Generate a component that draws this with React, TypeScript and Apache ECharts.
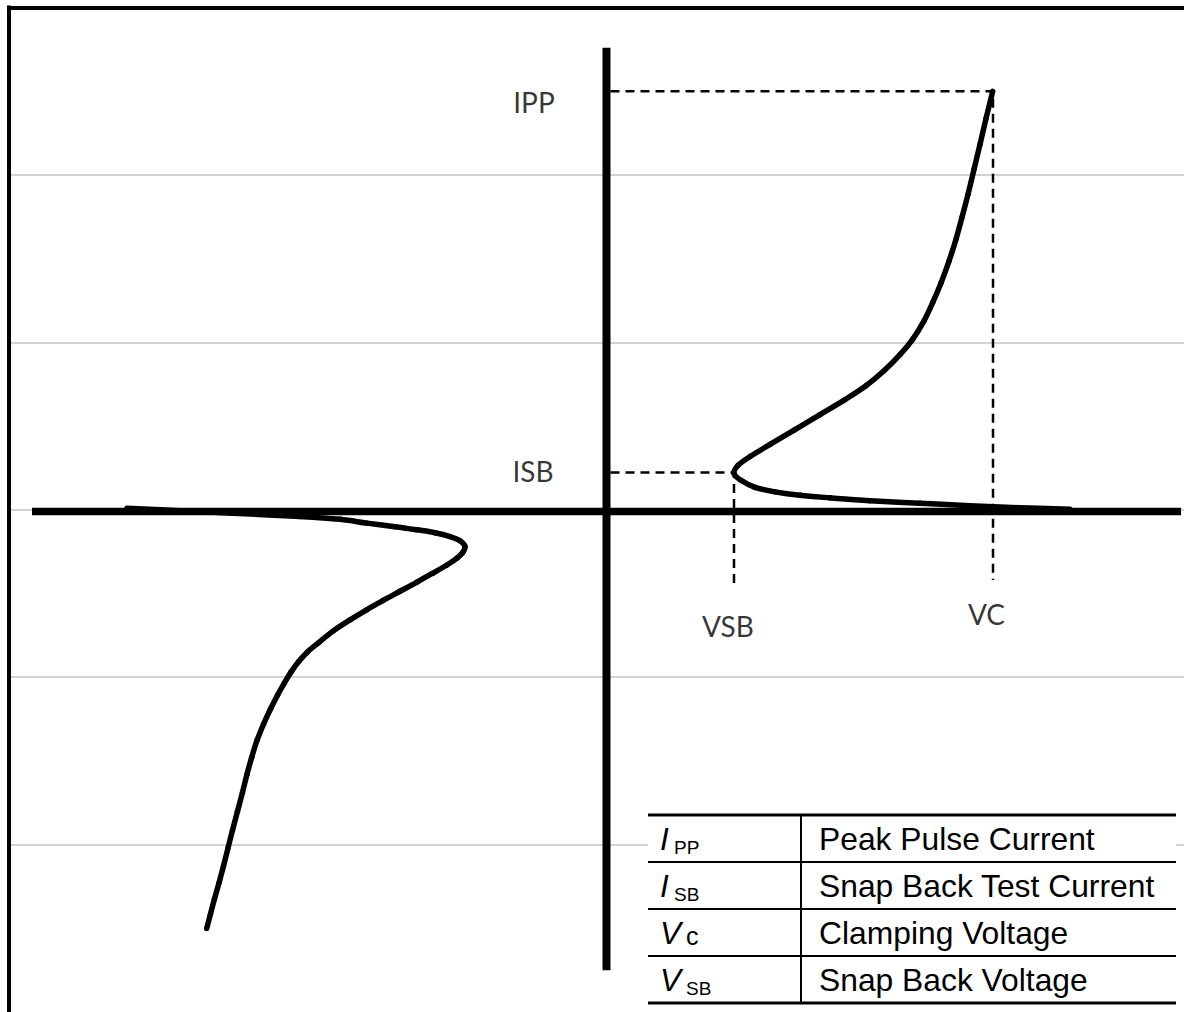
import React, { useEffect, useRef } from "react";
import * as echarts from "echarts";

// ---- axis ranges (arbitrary V / I units) ----
const X_MIN = -5.975;
const X_MAX = 5.775;
const Y_MIN = -3;
const Y_MAX = 3;
const Y_STEP = 1;

// ---- I-V characteristic, positive branch (voltage, current) ----
const POS_CURVE: [number, number][] = [
  [4.635, 0.003], [4.135, 0.012], [3.635, 0.024], [3.135, 0.039], [2.635, 0.054],
  [2.235, 0.071], [1.935, 0.086], [1.685, 0.107], [1.485, 0.134], [1.345, 0.176],
  [1.275, 0.217], [1.315, 0.265], [1.435, 0.318], [1.635, 0.39], [1.885, 0.479],
  [2.135, 0.568], [2.385, 0.658], [2.595, 0.741], [2.775, 0.83], [2.935, 0.926],
  [3.065, 1.021], [3.175, 1.128], [3.265, 1.241], [3.345, 1.354], [3.425, 1.485],
  [3.495, 1.616], [3.555, 1.747], [3.615, 1.884], [3.675, 2.033], [3.735, 2.182],
  [3.795, 2.336], [3.862, 2.499],
];

// ---- I-V characteristic, negative branch ----
const NEG_CURVE: [number, number][] = [
  [-4.795, 0.009], [-4.265, -0.006], [-3.735, -0.021], [-3.065, -0.04], [-2.665, -0.057],
  [-2.395, -0.08], [-2.115, -0.101], [-1.895, -0.12], [-1.715, -0.137], [-1.565, -0.16],
  [-1.465, -0.185], [-1.415, -0.219], [-1.435, -0.253], [-1.495, -0.289], [-1.595, -0.33],
  [-1.735, -0.378], [-1.895, -0.432], [-2.065, -0.487], [-2.235, -0.542], [-2.395, -0.596],
  [-2.565, -0.658], [-2.735, -0.725], [-2.875, -0.792], [-2.99, -0.849], [-3.08, -0.908],
  [-3.155, -0.97], [-3.225, -1.038], [-3.29, -1.108], [-3.36, -1.19], [-3.43, -1.281],
  [-3.495, -1.378], [-3.548, -1.479], [-3.595, -1.58], [-3.64, -1.688], [-3.69, -1.801],
  [-3.74, -1.914], [-3.785, -2.021], [-3.83, -2.128], [-3.875, -2.229], [-3.92, -2.324],
  [-3.96, -2.414], [-3.998, -2.501],
];

// ---- key points ----
const IPP = 2.5;
const VC = 3.865;
const ISB = 0.223;
const VSB = 1.275;
const VC_DROP = -0.42;
const VSB_DROP = -0.467;
const DASH_START = 0.04;

// ---- drawn axes extents ----
const H_AXIS: [number, number][] = [[-5.745, -0.01], [5.745, -0.01]];
const V_AXIS: [number, number][] = [[0, 2.76], [0, -2.75]];

// ---- point labels ----
const POINT_LABELS = [
  { name: "IPP", value: [-0.725, 2.437] },
  { name: "ISB", value: [-0.735, 0.229] },
  { name: "VSB", value: [1.215, -0.693] },
  { name: "VC", value: [3.8, -0.622] },
];

// ---- legend table ----
const TABLE_SYMBOLS = ["I", "I", "V", "V"];
const TABLE_SUBS = ["PP", "SB", "c", "SB"];
const TABLE_SUB_IS_SUBSCRIPT = [true, true, false, true];
const TABLE_DESCS = [
  "Peak Pulse Current",
  "Snap Back Test Current",
  "Clamping Voltage",
  "Snap Back Voltage",
];

function buildTable(): any[] {
  const left = 648;
  const right = 1176;
  const div = 801;
  const rowsY = [815, 862, 909, 956, 1003];
  const els: any[] = [];
  els.push({
    type: "rect",
    z: 10,
    shape: { x: left, y: rowsY[0], width: right - left, height: rowsY[4] - rowsY[0] },
    style: { fill: "#ffffff" },
  });
  rowsY.forEach((y, i) => {
    const w = i === 0 || i === rowsY.length - 1 ? 3 : 2;
    els.push({
      type: "line",
      z: 11,
      shape: { x1: left, y1: y, x2: right, y2: y },
      style: { stroke: "#000", lineWidth: w },
    });
  });
  els.push({
    type: "line",
    z: 11,
    shape: { x1: div, y1: rowsY[0], x2: div, y2: rowsY[4] },
    style: { stroke: "#000", lineWidth: 2 },
  });
  const font = "'Liberation Sans', Arial, sans-serif";
  TABLE_DESCS.forEach((desc, i) => {
    const cy = (rowsY[i] + rowsY[i + 1]) / 2;
    const sym = TABLE_SYMBOLS[i];
    els.push({
      type: "text",
      z: 12,
      x: 660,
      y: cy,
      style: {
        text: sym,
        fontSize: 31.5,
        fontStyle: "italic",
        fontFamily: font,
        fill: "#000",
        align: "left",
        verticalAlign: "middle",
      },
    });
    const subX = sym === "I" ? 674 : 686;
    const isSub = TABLE_SUB_IS_SUBSCRIPT[i];
    els.push({
      type: "text",
      z: 12,
      x: subX,
      y: isSub ? cy + 9 : cy + 3,
      style: {
        text: TABLE_SUBS[i],
        fontSize: isSub ? 19 : 25,
        fontFamily: font,
        fill: "#000",
        align: "left",
        verticalAlign: "middle",
      },
    });
    els.push({
      type: "text",
      z: 12,
      x: 819,
      y: cy,
      style: {
        text: desc,
        fontSize: 31.8,
        fontFamily: font,
        fill: "#000",
        align: "left",
        verticalAlign: "middle",
      },
    });
  });
  return els;
}

// smooth curve through the read points: each item draws one Catmull-Rom segment
function curveSeries(points: [number, number][]) {
  return {
    type: "custom",
    data: points,
    silent: true,
    clip: false,
    z: 4,
    renderItem: (params: any, api: any) => {
      const i = params.dataIndex;
      const n = points.length;
      if (i >= n - 1) return null;
      const p0 = api.coord(points[Math.max(0, i - 1)]);
      const p1 = api.coord(points[i]);
      const p2 = api.coord(points[i + 1]);
      const p3 = api.coord(points[Math.min(n - 1, i + 2)]);
      const t = 6;
      return {
        type: "bezierCurve",
        shape: {
          x1: p1[0],
          y1: p1[1],
          x2: p2[0],
          y2: p2[1],
          cpx1: p1[0] + (p2[0] - p0[0]) / t,
          cpy1: p1[1] + (p2[1] - p0[1]) / t,
          cpx2: p2[0] - (p3[0] - p1[0]) / t,
          cpy2: p2[1] - (p3[1] - p1[1]) / t,
        },
        style: { stroke: "#000", lineWidth: 5.5, fill: null, lineCap: "round" },
      };
    },
  };
}

export default function App() {
  const ref = useRef<HTMLDivElement>(null);

  useEffect(() => {
    if (!ref.current) return;
    const chart = echarts.init(ref.current, undefined, { renderer: "svg" });

    const black = "#000";
    const dashed = { color: black, width: 2.5, type: [9, 6] as any };

    const option: any = {
      animation: false,
      backgroundColor: "#ffffff",
      grid: { left: 9, top: 7.5, width: 1175, height: 1008 },
      xAxis: {
        type: "value",
        min: X_MIN,
        max: X_MAX,
        position: "top",
        z: 5,
        axisLine: { show: true, onZero: false, lineStyle: { color: black, width: 4, cap: "square" } },
        axisTick: { show: false },
        axisLabel: { show: false },
        splitLine: { show: false },
      },
      yAxis: {
        type: "value",
        min: Y_MIN,
        max: Y_MAX,
        interval: Y_STEP,
        z: 0,
        axisLine: { show: true, onZero: false, lineStyle: { color: black, width: 4, cap: "square" } },
        axisTick: { show: false },
        axisLabel: { show: false },
        splitLine: {
          show: true,
          showMinLine: false,
          showMaxLine: false,
          lineStyle: { color: "#d2d2d2", width: 2 },
        },
      },
      series: [
        {
          type: "line",
          data: H_AXIS,
          symbol: "none",
          lineStyle: { color: black, width: 7.5 },
          silent: true,
          z: 2,
        },
        {
          type: "line",
          data: V_AXIS,
          symbol: "none",
          lineStyle: { color: black, width: 8 },
          silent: true,
          z: 2,
        },
        {
          type: "line",
          data: [[DASH_START, IPP], [VC, IPP], [VC, VC_DROP]],
          symbol: "none",
          lineStyle: dashed,
          silent: true,
          z: 3,
        },
        {
          type: "line",
          data: [[DASH_START, ISB], [VSB, ISB], [VSB, VSB_DROP]],
          symbol: "none",
          lineStyle: dashed,
          silent: true,
          z: 3,
        },
        curveSeries(POS_CURVE),
        curveSeries(NEG_CURVE),
        {
          type: "scatter",
          data: POINT_LABELS,
          symbolSize: 0.1,
          itemStyle: { color: "transparent" },
          silent: true,
          z: 6,
          label: {
            show: true,
            position: "inside",
            formatter: "{b}",
            color: black,
            fontSize: 28,
            fontFamily: "Lato, 'Open Sans', sans-serif",
          },
        },
      ],
      graphic: buildTable(),
    };

    chart.setOption(option);
    return () => chart.dispose();
  }, []);

  return (
    <div
      ref={ref}
      style={{ position: "absolute", left: 0, top: 0, width: 1184, height: 1012 }}
    />
  );
}
